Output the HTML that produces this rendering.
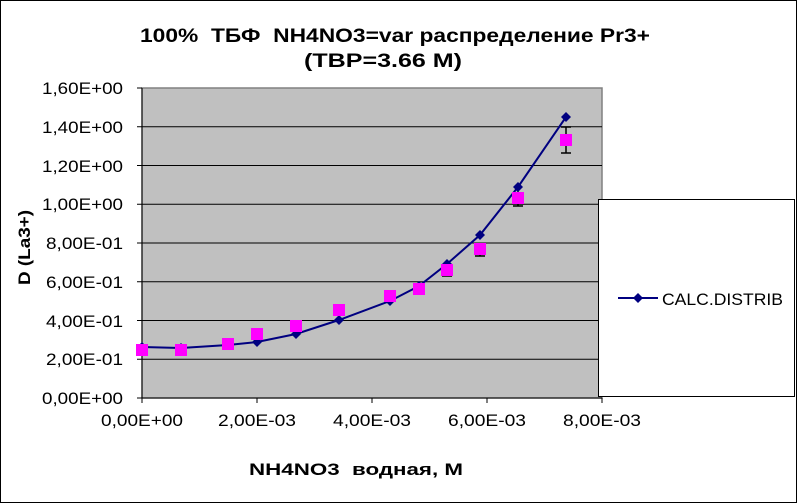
<!DOCTYPE html>
<html><head><style>
body{margin:0;background:#fff}
svg{display:block;font-family:"Liberation Sans",Arial,sans-serif}
text{white-space:pre}
</style></head><body>
<svg width="798" height="503" viewBox="0 0 798 503" xmlns="http://www.w3.org/2000/svg">
<rect x="0.5" y="0.5" width="796" height="502" fill="#fff" stroke="#000"/>
<text x="140" y="42" font-size="19" font-weight="bold" textLength="510" lengthAdjust="spacingAndGlyphs">100%  ТБФ  NH4NO3=var распределение Pr3+</text>
<text x="304" y="67" font-size="19" font-weight="bold" textLength="158" lengthAdjust="spacingAndGlyphs">(TBP=3.66 M)</text>
<rect x="142" y="88" width="460" height="310" fill="#c0c0c0" stroke="#808080" stroke-width="1.5"/>
<g stroke="#000" stroke-width="1">
<line x1="142" y1="126.75" x2="602" y2="126.75"/>
<line x1="142" y1="165.5" x2="602" y2="165.5"/>
<line x1="142" y1="204.25" x2="602" y2="204.25"/>
<line x1="142" y1="243" x2="602" y2="243"/>
<line x1="142" y1="281.75" x2="602" y2="281.75"/>
<line x1="142" y1="320.5" x2="602" y2="320.5"/>
<line x1="142" y1="359.25" x2="602" y2="359.25"/>
<line x1="142" y1="88" x2="142" y2="398"/>
<line x1="142" y1="398" x2="602" y2="398"/>
<line x1="137" y1="88" x2="142" y2="88"/><line x1="137" y1="126.75" x2="142" y2="126.75"/><line x1="137" y1="165.5" x2="142" y2="165.5"/><line x1="137" y1="204.25" x2="142" y2="204.25"/><line x1="137" y1="243" x2="142" y2="243"/><line x1="137" y1="281.75" x2="142" y2="281.75"/><line x1="137" y1="320.5" x2="142" y2="320.5"/><line x1="137" y1="359.25" x2="142" y2="359.25"/><line x1="137" y1="398" x2="142" y2="398"/>
<line x1="142" y1="398" x2="142" y2="403"/><line x1="257" y1="398" x2="257" y2="403"/><line x1="372" y1="398" x2="372" y2="403"/><line x1="487" y1="398" x2="487" y2="403"/><line x1="602" y1="398" x2="602" y2="403"/>
</g>
<g font-size="17">
<text x="42" y="94" textLength="81" lengthAdjust="spacingAndGlyphs">1,60E+00</text>
<text x="42" y="133" textLength="81" lengthAdjust="spacingAndGlyphs">1,40E+00</text>
<text x="42" y="172" textLength="81" lengthAdjust="spacingAndGlyphs">1,20E+00</text>
<text x="42" y="210" textLength="81" lengthAdjust="spacingAndGlyphs">1,00E+00</text>
<text x="46" y="249" textLength="77" lengthAdjust="spacingAndGlyphs">8,00E-01</text>
<text x="46" y="288" textLength="77" lengthAdjust="spacingAndGlyphs">6,00E-01</text>
<text x="46" y="327" textLength="77" lengthAdjust="spacingAndGlyphs">4,00E-01</text>
<text x="46" y="365" textLength="77" lengthAdjust="spacingAndGlyphs">2,00E-01</text>
<text x="42" y="404" textLength="81" lengthAdjust="spacingAndGlyphs">0,00E+00</text>
</g>
<g font-size="17">
<text x="101" y="426" textLength="82" lengthAdjust="spacingAndGlyphs">0,00E+00</text>
<text x="218" y="426" textLength="78" lengthAdjust="spacingAndGlyphs">2,00E-03</text>
<text x="333" y="426" textLength="78" lengthAdjust="spacingAndGlyphs">4,00E-03</text>
<text x="448" y="426" textLength="78" lengthAdjust="spacingAndGlyphs">6,00E-03</text>
<text x="563" y="426" textLength="78" lengthAdjust="spacingAndGlyphs">8,00E-03</text>
</g>
<text x="249" y="475" font-size="17" font-weight="bold" textLength="214" lengthAdjust="spacingAndGlyphs">NH4NO3  водная, M</text>
<text transform="translate(30,285) rotate(-90)" font-size="17" font-weight="bold" textLength="75" lengthAdjust="spacingAndGlyphs">D (La3+)</text>
<g stroke="#000" stroke-width="1.5">
<line x1="566" y1="127" x2="566" y2="153"/><line x1="561" y1="127" x2="571" y2="127"/><line x1="561" y1="153" x2="571" y2="153"/>
<line x1="518" y1="191" x2="518" y2="206"/><line x1="513" y1="206" x2="523" y2="206"/>
<line x1="480" y1="244" x2="480" y2="256"/><line x1="475" y1="256" x2="485" y2="256"/>
<line x1="447" y1="266" x2="447" y2="276"/><line x1="442" y1="276" x2="452" y2="276"/>
<line x1="419" y1="286" x2="419" y2="294"/><line x1="414" y1="294" x2="424" y2="294"/>
</g>
<polyline fill="none" stroke="#000080" stroke-width="2" points="142,347 181,348 228,345 257,342 296,334 339,320 390,301 419,286 447,264 480,235 518,187 566,117"/>
<g fill="#000080">
<path d="M142,342l5,5l-5,5l-5,-5z"/><path d="M181,343l5,5l-5,5l-5,-5z"/><path d="M257,337l5,5l-5,5l-5,-5z"/><path d="M296,329l5,5l-5,5l-5,-5z"/><path d="M339,315l5,5l-5,5l-5,-5z"/><path d="M390,296l5,5l-5,5l-5,-5z"/><path d="M419,281l5,5l-5,5l-5,-5z"/><path d="M447,259l5,5l-5,5l-5,-5z"/><path d="M480,230l5,5l-5,5l-5,-5z"/><path d="M518,182l5,5l-5,5l-5,-5z"/><path d="M566,112l5,5l-5,5l-5,-5z"/>
</g>
<g fill="#ff00ff">
<rect x="136" y="344" width="12" height="12"/><rect x="175" y="344" width="12" height="12"/><rect x="222" y="338" width="12" height="12"/><rect x="251" y="328" width="12" height="12"/><rect x="290" y="320" width="12" height="12"/><rect x="333" y="304" width="12" height="12"/><rect x="384" y="290" width="12" height="12"/><rect x="413" y="283" width="12" height="12"/><rect x="441" y="264" width="12" height="12"/><rect x="474" y="243" width="12" height="12"/><rect x="512" y="192" width="12" height="12"/><rect x="560" y="134" width="12" height="12"/>
</g>
<rect x="598.5" y="199.5" width="196" height="197" fill="#fff" stroke="#000"/>
<line x1="618" y1="298" x2="658" y2="298" stroke="#000080" stroke-width="2"/>
<path d="M638,293l5,5l-5,5l-5,-5z" fill="#000080"/>
<text x="662" y="305" font-size="17" textLength="121" lengthAdjust="spacingAndGlyphs">CALC.DISTRIB</text>
</svg>
</body></html>
